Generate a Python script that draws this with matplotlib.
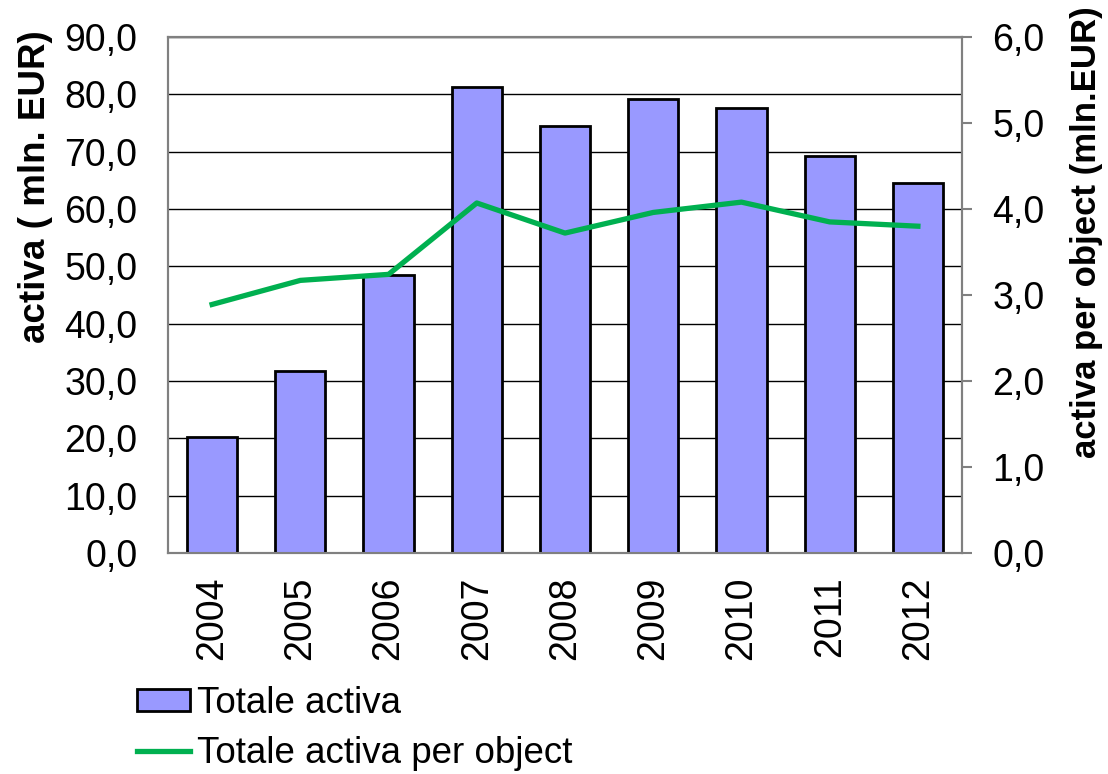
import numpy as np
import matplotlib.pyplot as plt
from matplotlib.ticker import FuncFormatter, MultipleLocator

plt.rcParams['font.family'] = ['Liberation Sans', 'DejaVu Sans']

years = ['2004', '2005', '2006', '2007', '2008', '2009', '2010', '2011', '2012']
totale_activa = [20.2, 31.7, 48.5, 81.3, 74.5, 79.2, 77.6, 69.2, 64.6]
activa_per_object = [2.89, 3.17, 3.24, 4.07, 3.72, 3.96, 4.08, 3.85, 3.80]

comma = FuncFormatter(lambda v, p: f'{v:.1f}'.replace('.', ','))
fs = 27

W, H = 1108, 774
fig = plt.figure(figsize=(W / 100, H / 100), dpi=100)
ax = fig.add_axes([168 / W, 1 - 553 / H, (962 - 168) / W, (553 - 37) / H])
ax2 = ax.twinx()

x = np.arange(len(years))
bars = ax.bar(x, totale_activa, width=0.57, color='#9999FF', edgecolor='black',
              linewidth=2, zorder=3, label='Totale activa')
line, = ax2.plot(x, activa_per_object, color='#00B050', lw=3.8,
                 label='Totale activa per object', zorder=4)

ax.set_xlim(-0.5, len(years) - 0.5)
ax.set_ylim(0, 90)
ax2.set_ylim(0, 6)
ax.yaxis.set_major_locator(MultipleLocator(10))
ax2.yaxis.set_major_locator(MultipleLocator(1))
ax.yaxis.set_major_formatter(comma)
ax2.yaxis.set_major_formatter(comma)

ax.grid(axis='y', color='black', lw=1, zorder=0)
ax.set_axisbelow(True)
ax2.set_zorder(ax.get_zorder() + 1)
ax2.patch.set_visible(False)

for a in (ax, ax2):
    for s in a.spines.values():
        s.set_color('#808080')
        s.set_linewidth(1.5)

ax.set_xticks(x)
ax.set_xticklabels(years, rotation=90, fontsize=fs)
ax.tick_params(axis='x', length=0, pad=17)
ax.tick_params(axis='y', length=0, labelsize=fs, pad=22)
ax2.tick_params(axis='y', length=7, width=1.5, color='#808080', labelsize=fs, pad=15)

ax.set_ylabel('activa ( mln. EUR)', fontsize=26.5, fontweight='bold')
ax.yaxis.set_label_coords((53 - 168) / 794, (553 - 187) / 516)
ax2.set_ylabel('activa per object (mln.EUR)', fontsize=25, fontweight='bold')
ax2.yaxis.set_label_coords((1070 - 168) / 794, (553 - 232) / 516)

fig.legend(handles=[bars, line], loc='upper left',
           bbox_to_anchor=(137 / W, 1 - 686 / H),
           frameon=False, fontsize=26.5, handlelength=1.45, handleheight=0.55,
           handletextpad=0.19, labelspacing=0.42, borderpad=0, borderaxespad=0)

fig.savefig('out.png', dpi=100)
